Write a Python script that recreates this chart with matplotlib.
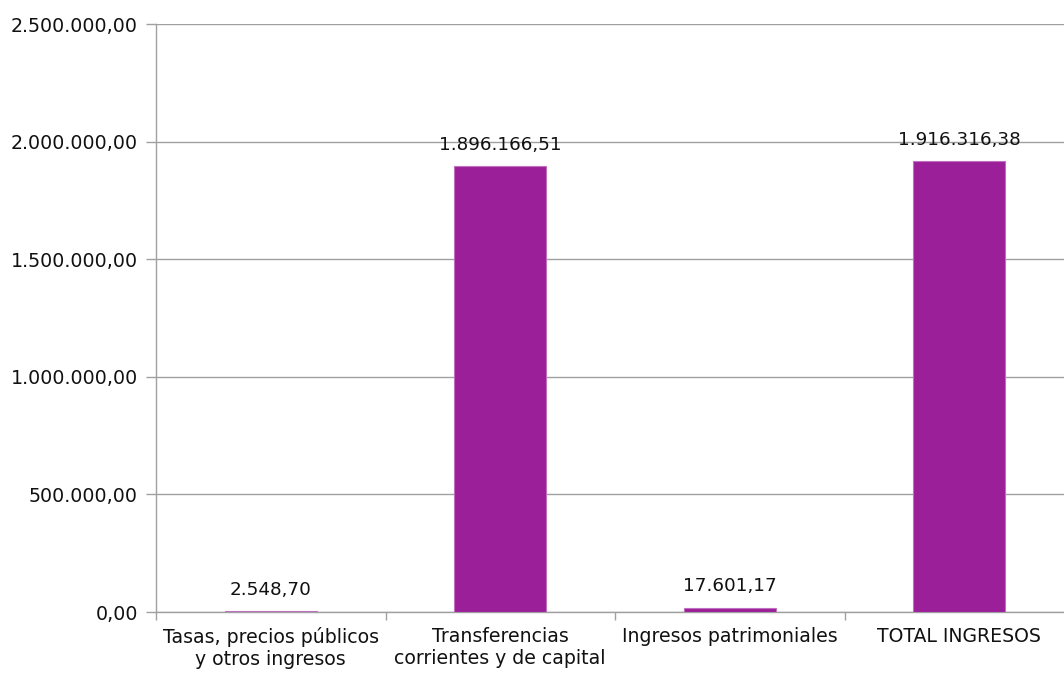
import matplotlib
matplotlib.use("Agg")
import matplotlib.pyplot as plt
from matplotlib.ticker import FuncFormatter, FixedLocator

categories = ["Tasas, precios públicos\ny otros ingresos",
              "Transferencias\ncorrientes y de capital",
              "Ingresos patrimoniales",
              "TOTAL INGRESOS"]
values = [2548.70, 1896166.51, 17601.17, 1916316.38]
yticks = [0, 500000, 1000000, 1500000, 2000000, 2500000]


def es_fmt(v, pos=None):
    s = f"{v:,.2f}"
    return s.replace(",", "X").replace(".", ",").replace("X", ".")


plt.rcParams['font.family'] = ['DejaVu Sans']
fig = plt.figure(figsize=(10.64, 6.78), dpi=100)
ax = fig.add_axes([156 / 1064, 66 / 678, 918 / 1064, 588 / 678])

x = list(range(len(categories)))
bars = ax.bar(x, values, width=0.4, color="#9B1F99", edgecolor="#C070BE",
              linewidth=0.8, zorder=3)

ax.set_xlim(-0.5, len(categories) - 0.5)
ax.set_ylim(0, 2500000)
ax.set_yticks(yticks)
ax.yaxis.set_major_formatter(FuncFormatter(es_fmt))
ax.grid(axis="y", color="#A0A0A0", linewidth=1.0, zorder=0)

ax.set_xticks(x)
ax.set_xticklabels(categories, fontsize=13.6, color="#111111", linespacing=1.2)
ax.tick_params(axis="x", which="major", length=0, pad=11)
ax.xaxis.set_minor_locator(FixedLocator([i - 0.5 for i in range(len(categories) + 1)]))
ax.tick_params(axis="x", which="minor", length=6, color="#A0A0A0", width=1)
ax.tick_params(axis="y", length=7, color="#A0A0A0", width=1, labelsize=13.7,
               labelcolor="#111111", pad=6)

for s in ["top", "right"]:
    ax.spines[s].set_visible(False)
for s in ["left", "bottom"]:
    ax.spines[s].set_color("#A0A0A0")
    ax.spines[s].set_linewidth(1)

for xi, v in zip(x, values):
    ax.annotate(es_fmt(v), (xi, v), xytext=(0, 9), textcoords="offset points",
                ha="center", va="bottom", fontsize=13.2, color="#111111", zorder=4)

fig.savefig("out.png", dpi=100)
